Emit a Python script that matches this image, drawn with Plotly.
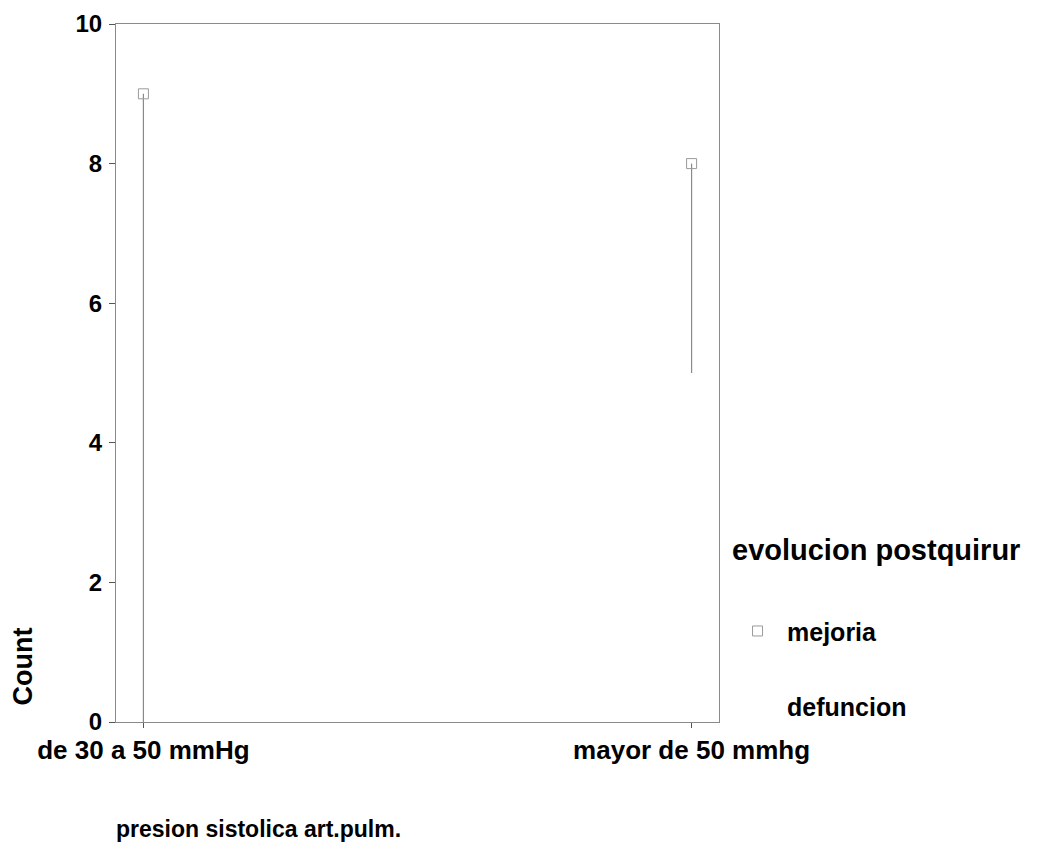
import plotly.graph_objects as go

categories = ["de 30 a 50 mmHg", "mayor de 50 mmhg"]
mejoria = [9, 8]
defuncion = [0, 5]
y_ticks = [0, 2, 4, 6, 8, 10]

FONT = "Liberation Sans, Arial, sans-serif"

xs = list(range(len(categories)))

# high-low connector lines
lx, ly = [], []
for i, (hi, lo) in enumerate(zip(mejoria, defuncion)):
    lx += [xs[i], xs[i], None]
    ly += [lo, hi, None]

fig = go.Figure()
fig.add_trace(go.Scatter(
    x=lx, y=ly, mode="lines", showlegend=False, hoverinfo="skip",
    line=dict(color="#8a8a8a", width=1.2),
))
fig.add_trace(go.Scatter(
    x=xs, y=mejoria, mode="markers", name="mejoria", legendgroup="a",
    marker=dict(symbol="square-open", size=10, color="#9a9a9a", line=dict(width=1)),
))
fig.add_trace(go.Scatter(
    x=xs, y=defuncion, mode="markers", name="defuncion", legendgroup="b",
    marker=dict(symbol="square-open", size=10, color="rgba(0,0,0,0)", line=dict(width=0)),
))

fig.update_layout(
    width=1050, height=852,
    margin=dict(l=108, r=339, t=16, b=138, autoexpand=False),
    paper_bgcolor="white", plot_bgcolor="white",
    font=dict(family=FONT, color="black", size=18, weight="bold"),
    legend=dict(
        x=1.015, xanchor="left", y=0.163, yanchor="top",
        font=dict(size=25, family=FONT, color="black", weight="bold"),
        tracegroupgap=40, itemwidth=49,
        bgcolor="rgba(0,0,0,0)",
    ),
    xaxis=dict(
        range=[-0.05, 1.05], tickvals=xs, ticktext=categories,
        showgrid=False, zeroline=False, automargin=False,
        showline=True, mirror=True, linecolor="#8a8a8a", linewidth=1,
        ticks="outside", ticklen=5, tickcolor="#555",
        tickfont=dict(size=26, family=FONT, color="black", weight="bold"),
    ),
    yaxis=dict(
        range=[0, 10], tickvals=y_ticks, ticktext=[str(v) for v in y_ticks],
        showgrid=False, zeroline=False, automargin=False,
        showline=True, mirror=True, linecolor="#8a8a8a", linewidth=1,
        ticks="outside", ticklen=6, tickcolor="#555", ticklabelstandoff=2,
        ticklabeloverflow="allow",
        tickfont=dict(size=24, family=FONT, color="black", weight="bold"),
    ),
    annotations=[
        dict(text="evolucion postquirur", xref="paper", yref="paper",
             x=1.018, y=0.246, xanchor="left", yanchor="middle",
             showarrow=False, font=dict(size=29, family=FONT, color="black", weight="bold")),
        dict(text="Count", textangle=-90, xref="paper", yref="paper",
             x=-0.154, y=0.021, xanchor="center", yanchor="bottom",
             showarrow=False, font=dict(size=27, family=FONT, color="black", weight="bold")),
        dict(text="presion sistolica art.pulm.", xref="paper", yref="paper",
             x=-0.003, y=-0.154, xanchor="left", yanchor="middle",
             showarrow=False, font=dict(size=23, family=FONT, color="black", weight="bold")),
    ],
)

fig.write_html("out.html")
